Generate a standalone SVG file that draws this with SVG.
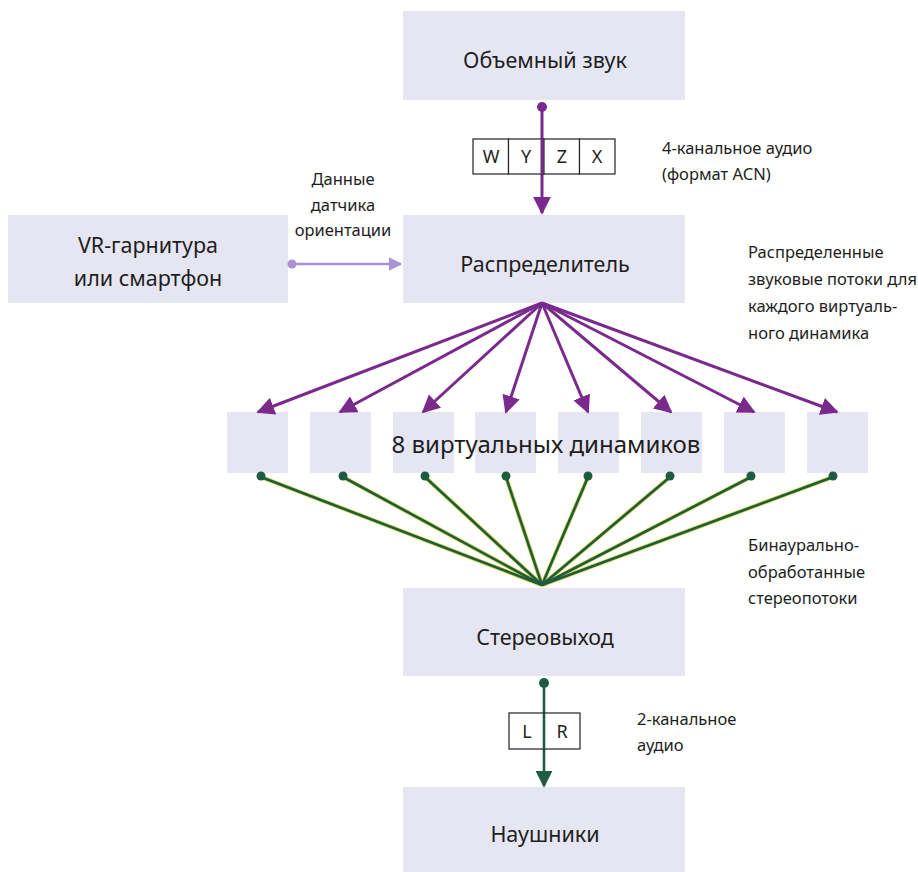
<svg xmlns="http://www.w3.org/2000/svg" width="918" height="872" viewBox="0 0 918 872">
<defs>
<style>
.box{fill:#e6e6f3}
.lbl{font-family:"Noto Sans","Open Sans","Liberation Sans",sans-serif;fill:#1e1e1e;}
.big{font-size:21.5px;text-anchor:middle}
.sm{font-size:16.5px}
.cell{fill:#fff;stroke:#222;stroke-width:1.2}
.pl{stroke:#7a2a8c;stroke-width:3;fill:none}
.gl{stroke:#1f5b3f;stroke-width:2.6;fill:none}
.gy{stroke:#d8d84a;stroke-width:4.2;fill:none}
.ll{stroke:#a993d4;stroke-width:2.5;fill:none}
</style>
<marker id="ap" viewBox="0 0 10 10" refX="9" refY="5" markerWidth="6" markerHeight="6" orient="auto" markerUnits="strokeWidth"><path d="M0,0 L10,5 L0,10 z" fill="#7a2a8c"/></marker>
<marker id="ag" viewBox="0 0 10 10" refX="9" refY="5" markerWidth="6.5" markerHeight="6.5" orient="auto" markerUnits="strokeWidth"><path d="M0,0 L10,5 L0,10 z" fill="#1f5b3f"/></marker>
<marker id="al" viewBox="0 0 10 10" refX="9" refY="5" markerWidth="5.5" markerHeight="5.5" orient="auto" markerUnits="strokeWidth"><path d="M0,0 L10,5 L0,10 z" fill="#a993d4"/></marker>
</defs>
<rect width="918" height="872" fill="#fff"/>

<g id="surround">
<rect class="box" x="403" y="11" width="282" height="89"/>
<text class="lbl big" x="545" y="68">Объемный звук</text>
</g>
<g id="distributor">
<rect class="box" x="403" y="215" width="282" height="88"/>
<text class="lbl big" x="545" y="272">Распределитель</text>
</g>
<g id="vr">
<rect class="box" x="8" y="215" width="280" height="88"/>
<text class="lbl big" x="148" y="253">VR-гарнитура</text>
<text class="lbl big" x="148" y="286">или смартфон</text>
</g>
<g id="speakers">
<rect class="box" x="227" y="412" width="61" height="61"/>
<rect class="box" x="310" y="412" width="61" height="61"/>
<rect class="box" x="393" y="412" width="61" height="61"/>
<rect class="box" x="475" y="412" width="61" height="61"/>
<rect class="box" x="558" y="412" width="61" height="61"/>
<rect class="box" x="641" y="412" width="61" height="61"/>
<rect class="box" x="724" y="412" width="61" height="61"/>
<rect class="box" x="807" y="412" width="61" height="61"/>
<text class="lbl" x="546" y="453" font-size="24" text-anchor="middle">8 виртуальных динамиков</text>
</g>
<g id="stereo">
<rect class="box" x="403" y="588" width="282" height="88"/>
<text class="lbl big" x="545" y="645">Стереовыход</text>
</g>
<g id="headphones">
<rect class="box" x="403" y="787" width="282" height="85"/>
<text class="lbl big" x="545" y="842">Наушники</text>
</g>

<g id="connectors">
<line class="pl" x1="542" y1="107" x2="542" y2="213" marker-end="url(#ap)"/>
<circle cx="542" cy="107" r="5" fill="#7a2a8c"/>
<line class="ll" x1="292" y1="264" x2="401" y2="264" marker-end="url(#al)"/>
<circle cx="292" cy="264" r="4.5" fill="#a993d4"/>
<g class="pl" marker-end="url(#ap)">
<line x1="542" y1="303" x2="258" y2="412"/>
<line x1="542" y1="303" x2="340" y2="412"/>
<line x1="542" y1="303" x2="423" y2="412"/>
<line x1="542" y1="303" x2="506" y2="412"/>
<line x1="542" y1="303" x2="588" y2="412"/>
<line x1="542" y1="303" x2="671" y2="412"/>
<line x1="542" y1="303" x2="754" y2="412"/>
<line x1="542" y1="303" x2="837" y2="412"/>
</g>
<g class="gy">
<line x1="261" y1="477" x2="542" y2="585"/>
<line x1="343" y1="477" x2="542" y2="585"/>
<line x1="425" y1="477" x2="542" y2="585"/>
<line x1="506" y1="477" x2="542" y2="585"/>
<line x1="588" y1="477" x2="542" y2="585"/>
<line x1="670" y1="477" x2="542" y2="585"/>
<line x1="751" y1="477" x2="542" y2="585"/>
<line x1="833" y1="477" x2="542" y2="585"/>
</g>
<g class="gl">
<line x1="261" y1="477" x2="542" y2="585"/>
<line x1="343" y1="477" x2="542" y2="585"/>
<line x1="425" y1="477" x2="542" y2="585"/>
<line x1="506" y1="477" x2="542" y2="585"/>
<line x1="588" y1="477" x2="542" y2="585"/>
<line x1="670" y1="477" x2="542" y2="585"/>
<line x1="751" y1="477" x2="542" y2="585"/>
<line x1="833" y1="477" x2="542" y2="585"/>
</g>
<g fill="#1f5b3f">
<circle cx="261" cy="476" r="4.5"/>
<circle cx="343" cy="476" r="4.5"/>
<circle cx="425" cy="476" r="4.5"/>
<circle cx="506" cy="476" r="4.5"/>
<circle cx="588" cy="476" r="4.5"/>
<circle cx="670" cy="476" r="4.5"/>
<circle cx="751" cy="476" r="4.5"/>
<circle cx="833" cy="476" r="4.5"/>
</g>
<line class="gl" x1="544" y1="683" x2="544" y2="786" marker-end="url(#ag)"/>
<circle cx="544" cy="683" r="5" fill="#1f5b3f"/>
</g>

<g id="wyzx">
<rect class="cell" x="473" y="139" width="35.5" height="35"/>
<rect class="cell" x="508.5" y="139" width="35.5" height="35"/>
<rect class="cell" x="544" y="139" width="35.5" height="35"/>
<rect class="cell" x="579.5" y="139" width="35.5" height="35"/>
<line x1="542" y1="139" x2="542" y2="174" stroke="#7a2a8c" stroke-width="3"/>
<g class="lbl" font-size="18" text-anchor="middle">
<text x="491" y="163">W</text>
<text x="526" y="163">Y</text>
<text x="562" y="163">Z</text>
<text x="597" y="163">X</text>
</g>
</g>
<g id="lr">
<rect class="cell" x="509" y="713" width="35" height="36"/>
<rect class="cell" x="544" y="713" width="36" height="36"/>
<line x1="544" y1="713" x2="544" y2="749" stroke="#1f5b3f" stroke-width="2.6"/>
<g class="lbl" font-size="18" text-anchor="middle">
<text x="527" y="738">L</text>
<text x="562" y="738">R</text>
</g>
</g>

<g id="labels" class="lbl sm">
<text x="662" y="154">4-канальное аудио</text>
<text x="662" y="180">(формат ACN)</text>
<text x="343" y="185" text-anchor="middle">Данные</text>
<text x="343" y="211" text-anchor="middle">датчика</text>
<text x="343" y="236" text-anchor="middle">ориентации</text>
<text x="748" y="258">Распределенные</text>
<text x="748" y="285">звуковые потоки для</text>
<text x="748" y="312">каждого виртуаль-</text>
<text x="748" y="339">ного динамика</text>
<text x="748" y="551">Бинаурально-</text>
<text x="748" y="578">обработанные</text>
<text x="748" y="604">стереопотоки</text>
<text x="637" y="725">2-канальное</text>
<text x="637" y="751">аудио</text>
</g>
</svg>
